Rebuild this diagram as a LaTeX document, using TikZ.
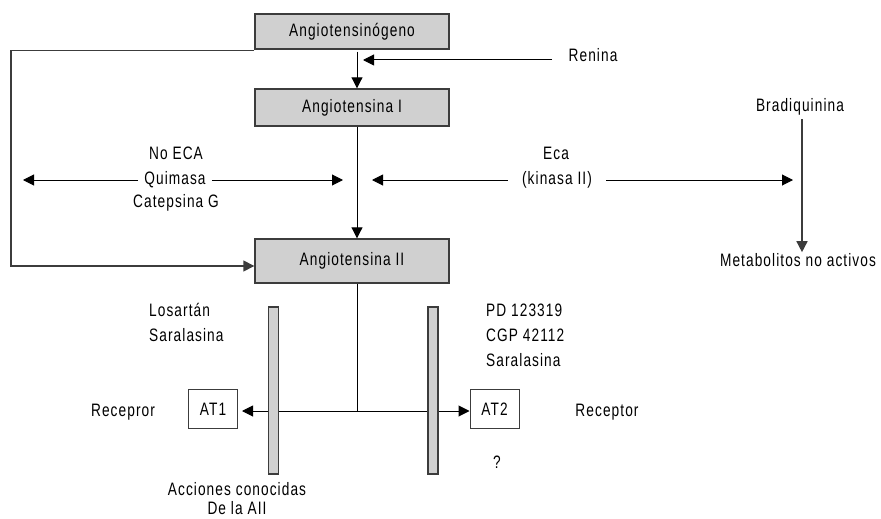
\documentclass[tikz,border=0pt]{standalone}
\usepackage{fontspec}
\setmainfont[FakeStretch=0.76,LetterSpace=6]{Liberation Sans}
\usetikzlibrary{arrows.meta}
\definecolor{boxfill}{RGB}{208,208,208}
\definecolor{boxline}{RGB}{60,60,60}
\tikzset{
  every node/.style={font=\fontsize{18}{21}\selectfont, inner sep=0pt},
  gbox/.style={draw=boxline, line width=1.4pt, fill=boxfill, minimum width=194pt},
  wbox/.style={draw=boxline, line width=1pt, fill=white, minimum width=49pt, minimum height=39pt},
  bar/.style={draw=boxline, line width=1.2pt, fill=boxfill, minimum width=10pt, minimum height=167pt},
  lbl/.style={inner sep=1pt},
  arr/.style={line width=1pt, -{Triangle[length=11pt,width=11pt]}},
  garr/.style={draw=boxline, line width=1.5pt, -{Triangle[length=11pt,width=11pt]}},
  ln/.style={line width=1pt}
}
\begin{document}
\begin{tikzpicture}[x=1pt,y=-1pt]
\useasboundingbox (0,0) rectangle (881,519);
% main boxes
\node[gbox, minimum height=35pt] (ang0) at (352,31.5) {Angiotensinógeno};
\node[gbox, minimum height=37pt] (ang1) at (352,107.5) {Angiotensina I};
\node[gbox, minimum height=44pt] (ang2) at (352,261) {Angiotensina II};
% Renina
\node[lbl] (ren) at (593,55) {Renina};
\coordinate (renL) at (552,60);
\coordinate (renT) at (363,60);
\draw[arr] (renL) -- (renT);
% main vertical flow
\draw[arr] ([xshift=5pt,yshift=-2pt]ang0.south) -- ([xshift=5pt]ang1.north);
\draw[arr] ([xshift=5pt]ang1.south) -- ([xshift=5pt]ang2.north);
% left bypass
\coordinate (lp) at (11,266);
\coordinate (a0sw) at ([yshift=-1pt]ang0.south west);
\draw[garr] (a0sw) -- (lp |- a0sw) -- (lp) -- (lp -| ang2.west);
% No ECA
\node[lbl] (noeca) at (176,153) {No ECA};
\node[inner xsep=6pt] (quim) at (175,180) {Quimasa};
\node[lbl] (catg) at (176,203) {Catepsina G};
\coordinate (qL) at (23,180);
\coordinate (qR) at (343,180);
\draw[arr] (quim.west) -- (qL);
\draw[arr] (quim.east) -- (qR);
% Eca
\node[lbl] (eca) at (556,153) {Eca};
\node[inner xsep=14pt] (kin) at (557,180) {(kinasa II)};
\coordinate (kL) at (372,180);
\coordinate (kR) at (793,180);
\draw[arr] (kin.west) -- (kL);
\draw[arr] (kin.east) -- (kR);
% Bradiquinina
\node[lbl] (brad) at (800,107) {Bradiquinina};
\node[lbl] (meta) at (798,260) {Metabolitos no activos};
\coordinate (bt) at (802,119);
\draw[garr] (bt) -- (bt |- meta.north);
% receptors
\coordinate (jn) at (357,411);
\node[wbox] (at1) at (213,409) {AT1};
\node[wbox] (at2) at (494.5,409) {AT2};
\draw[ln] ([xshift=5pt]ang2.south) -- (jn);
\draw[arr, shorten >=4pt] (jn) -- (jn -| at1.east);
\draw[arr] (jn) -- (jn -| at2.west);
\node[bar] (bar1) at (273.5,390.5) {};
\node[bar] (bar2) at (433,390.5) {};
% labels
\node[lbl, anchor=west] (los) at (148,310) {Losartán};
\node[lbl, anchor=west] (sar1) at (148,335) {Saralasina};
\node[lbl, anchor=west] (pd) at (485,310) {PD 123319};
\node[lbl, anchor=west] (cgp) at (485,335) {CGP 42112};
\node[lbl, anchor=west] (sar2) at (485,360) {Saralasina};
\node[lbl] (rec1) at (123,412) {Recepror};
\node[lbl] (rec2) at (607,412) {Receptor};
\node[lbl] (q) at (497,462) {?};
\node[lbl] (acc) at (237,489) {Acciones conocidas};
\node[lbl] (dela) at (237,508) {De la AII};
\end{tikzpicture}
\end{document}
